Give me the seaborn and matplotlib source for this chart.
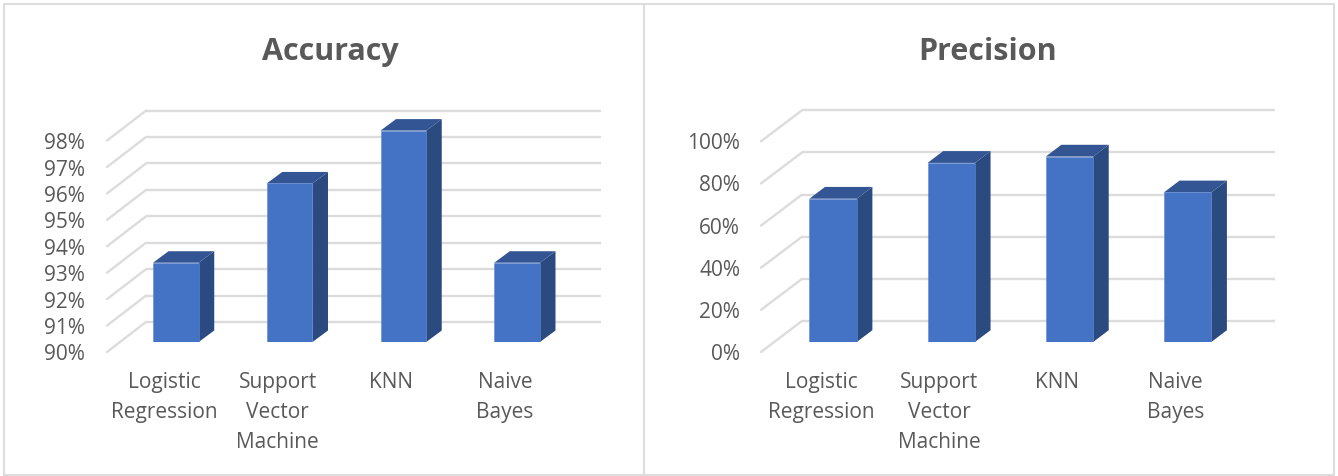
import matplotlib
matplotlib.use("Agg")
import matplotlib.pyplot as plt
import numpy as np
import pandas as pd
import seaborn as sns
from matplotlib.patches import Polygon, Rectangle
from matplotlib.ticker import PercentFormatter
from matplotlib.transforms import IdentityTransform, ScaledTranslation

# Model comparison scores, in percent
models = ["Logistic\nRegression", "Support\nVector\nMachine", "KNN", "Naive\nBayes"]
accuracy = [93, 96, 98, 93]
precision = [68, 85, 88, 71]
accuracy_ticks = [90, 91, 92, 93, 94, 95, 96, 97, 98]
precision_ticks = [0, 20, 40, 60, 80, 100]

W, H, DPI = 1338, 476, 100
FRONT, SIDE, TOP = "#4472C4", "#2A4A80", "#335593"
GRID, TEXT = "#DCDCDC", "#595959"

sns.set_theme(style="white")
plt.rcParams["font.family"] = ["Open Sans", "DejaVu Sans"]

fig = plt.figure(figsize=(W / DPI, H / DPI), dpi=DPI, facecolor="white")


def shifted(ax, dx, dy):
    """Data transform moved by a distance in pixels (y upwards)."""
    return ax.transData + ScaledTranslation(dx / DPI, dy / DPI, fig.dpi_scale_trans)


def pseudo_3d_bars(title, title_x, values, ticks, box, wall, front_end, depth, bar_w, label_drop):
    left, right, top, bottom = box
    ax = fig.add_axes([left / W, 1 - bottom / H, (right - left) / W, (bottom - top) / H])
    ax.set_facecolor("none")
    frame = pd.DataFrame({"model": models, "score": values})
    sns.barplot(data=frame, x="model", y="score", color=FRONT, saturation=1,
                width=bar_w, ax=ax, zorder=4, edgecolor="#5F88D0", linewidth=0.4)
    ax.set_xlim(-0.5, len(models) - 0.5)
    ax.set_ylim(ticks[0], ticks[-1])
    ax.set_xlabel("")
    ax.set_ylabel("")
    sns.despine(ax=ax, left=True, bottom=True, top=True, right=True)

    # Back wall and left floor-to-wall gridlines
    x0, x1 = ax.get_xlim()
    for t in ticks:
        ax.plot([x0, x1], [t, t], transform=shifted(ax, *wall), color=GRID,
                lw=1.7, clip_on=False, zorder=1, solid_capstyle="butt")
        a = ax.transData.transform((x0, t)) + np.array(wall)
        b = ax.transData.transform((x0, t)) + np.array(front_end)
        ax.plot([a[0], b[0]], [a[1], b[1]], transform=IdentityTransform(),
                color=GRID, lw=1.7, clip_on=False, zorder=1)

    # Side and top faces built from each bar's own geometry
    dx, dy = depth
    base = ticks[0]
    for patch in list(ax.patches):
        b0 = patch.get_x()
        b1 = b0 + patch.get_width()
        h = patch.get_height()
        p_bl = ax.transData.transform((b1, base))
        p_tr = ax.transData.transform((b1, h))
        p_tl = ax.transData.transform((b0, h))
        off = np.array([dx, dy])
        ax.add_patch(Polygon([p_bl, p_tr, p_tr + off, p_bl + off], closed=True,
                             transform=IdentityTransform(), facecolor=SIDE,
                             edgecolor="none", clip_on=False, zorder=3))
        ax.add_patch(Polygon([p_tl, p_tr, p_tr + off, p_tl + off], closed=True,
                             transform=IdentityTransform(), facecolor=TOP,
                             edgecolor="none", clip_on=False, zorder=3))

    ax.set_yticks(ticks)
    ax.yaxis.set_major_formatter(PercentFormatter(100, decimals=0))
    ax.tick_params(axis="y", length=0, pad=34 * 72 / DPI, labelsize=15, labelcolor=TEXT)
    ax.tick_params(axis="x", length=0, pad=30 * 72 / DPI, labelsize=15, labelcolor=TEXT)
    for label in ax.get_yticklabels():
        label.set_transform(label.get_transform() + ScaledTranslation(0, -label_drop / DPI, fig.dpi_scale_trans))
    for label in ax.get_xticklabels():
        label.set_linespacing(1.56)
        label.set_transform(label.get_transform() + ScaledTranslation(-12 / DPI, 0, fig.dpi_scale_trans))

    fig.text(title_x / W, 1 - 52 / H, title, ha="center", va="center",
             fontsize=22, fontweight="bold", color=TEXT)
    return ax


pseudo_3d_bars("Accuracy", 330, accuracy, accuracy_ticks,
               box=(119, 574, 130.6, 342), wall=(27, 20), front_end=(-12, -10),
               depth=(15.5, 11.5), bar_w=0.402, label_drop=10.5)
pseudo_3d_bars("Precision", 988, precision, precision_ticks,
               box=(774, 1246.7, 131.3, 342), wall=(28, 21), front_end=(-13, -10),
               depth=(15.6, 11.8), bar_w=0.401, label_drop=10)

# Panel frames around the two charts
for x0, x1 in [(3.5, 644), (644, 1333.5)]:
    fig.add_artist(Rectangle((x0 / W, 1 - 475 / H), (x1 - x0) / W, (475 - 4) / H,
                             transform=fig.transFigure, facecolor="none",
                             edgecolor="#DDDDDD", linewidth=1.5))

fig.savefig("out.png", dpi=DPI, facecolor="white")
